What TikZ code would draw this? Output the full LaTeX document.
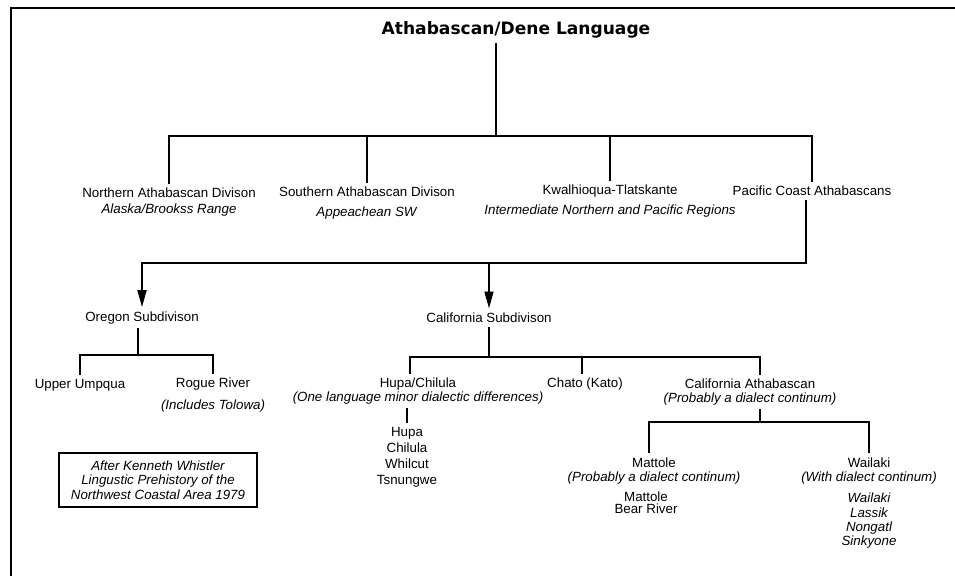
\documentclass[tikz,border=0pt]{standalone}
\usepackage{fontspec}
\setmainfont{Liberation Sans}
\newfontfamily\headfont{DejaVu Sans}
\usetikzlibrary{arrows.meta}

\tikzstyle{tree-label}=[align=center, inner sep=3pt, font={\fontsize{10}{12}\selectfont}]
\tikzstyle{tight-label}=[tree-label, font={\fontsize{10}{10}\selectfont}]
\tikzstyle{tree-line}=[line width=2pt]
\tikzstyle{tree-arrow}=[tree-line, -{Triangle[width=6.5pt, length=13pt]}]
\tikzstyle{source-box}=[draw, line width=1.7pt, minimum width=148pt, minimum height=40pt,
  inner sep=2pt, align=center, font={\fontsize{10}{11}\selectfont\itshape}]

\begin{document}
\begin{tikzpicture}[x=0.75pt, y=-0.75pt]
      \useasboundingbox (0,0) rectangle (955,575);
      \draw[line width=2.2pt] (11,580) -- (11,8) -- (960,8);

      % top level
      \node (root) at (516, 30) [inner sep=3pt, font={\headfont\bfseries\fontsize{12.8}{14}\selectfont}]
            {Athabascan/Dene Language};
      \node (northdiv) at (169, 202) [tree-label]
            {Northern Athabascan Divison\\\textit{Alaska/Brookss Range}};
      \node (southdiv) at (367, 203) [tree-label]
            {Southern Athabascan Divison\\[3pt]\textit{Appeachean SW}};
      \node (kwalhioqua) at (610, 201) [tree-label]
            {Kwalhioqua-Tlatskante\\[3pt]\textit{Intermediate Northern and Pacific Regions}};
      \node (pacific) at (812, 191) [tree-label] {Pacific Coast Athabascans};

      \coordinate (rootjoin) at (496, 136);
      \draw[tree-line] (root.south -| rootjoin) -- (rootjoin);
      \draw[tree-line] (northdiv.north) |- (rootjoin) -| (pacific.north);
      \draw[tree-line] (southdiv.north) -- (southdiv.north |- rootjoin);
      \draw[tree-line] (kwalhioqua.north) -- (kwalhioqua.north |- rootjoin);

      % subdivisions
      \node (oregon) at (142, 318) [tree-label] {Oregon Subdivison};
      \node (california) at (489, 318) [tree-label] {California Subdivison};

      \coordinate (pacificjoin) at (806, 263);
      \draw[tree-arrow] (pacific.south -| pacificjoin) -- (pacificjoin) -| (oregon.north);
      \draw[tree-arrow] (pacificjoin -| california) -- (california.north);

      % oregon branch
      \node (umpqua) at (80, 385) [tree-label] {Upper Umpqua};
      \node (rogue) at (213, 395) [tree-label] {Rogue River\\[4pt]\textit{(Includes Tolowa)}};

      \coordinate (oregonjoin) at (138, 355);
      \draw[tree-line] (oregon.south -| oregonjoin) -- (oregonjoin);
      \draw[tree-line] (umpqua.north) |- (oregonjoin) -| (rogue.north);

      \node (source) at (158, 480) [source-box]
            {After Kenneth Whistler\\Lingustic Prehistory of the\\Northwest Coastal Area 1979};

      % california branch
      \node (hupa) at (418, 391) [tight-label]
            {Hupa/Chilula\\\textit{(One language minor dialectic differences)}};
      \node (hupalist) at (407, 457) [tree-label] {Hupa\\Chilula\\Whilcut\\Tsnungwe};
      \node (chato) at (585, 384) [tree-label] {Chato (Kato)};
      \node (calathabascan) at (750, 392) [tight-label]
            {California Athabascan\\\textit{(Probably a dialect continum)}};

      \coordinate (californiajoin) at (489, 357);
      \coordinate (calathjoin) at (760, 422);
      \draw[tree-line] (california.south) -- (californiajoin);
      \draw[tree-line] (hupa.north -| 410,0) |- (californiajoin) -| (calathabascan.north -| calathjoin);
      \draw[tree-line] (chato.north -| 582,0) -- (582,0 |- californiajoin);
      \draw[tree-line] (hupa.south -| hupalist) -- (hupalist.north);

      % california athabascan branch
      \node (mattole) at (654, 471) [tree-label]
            {Mattole\\[-1pt]\textit{(Probably a dialect continum)}};
      \node (mattolelist) at (646, 503) [tight-label] {Mattole\\[-1pt]Bear River};
      \node (wailaki) at (869, 471) [tree-label]
            {Wailaki\\[-1pt]\textit{(With dialect continum)}};
      \node (wailakilist) at (869, 521) [tree-label, font={\fontsize{10}{10.75}\selectfont\itshape}]
            {Wailaki\\Lassik\\Nongatl\\Sinkyone};

      \draw[tree-line] (calathabascan.south -| calathjoin) -- (calathjoin);
      \draw[tree-line] (mattole.north -| 649,0) |- (calathjoin) -| (wailaki.north);
\end{tikzpicture}
\end{document}
